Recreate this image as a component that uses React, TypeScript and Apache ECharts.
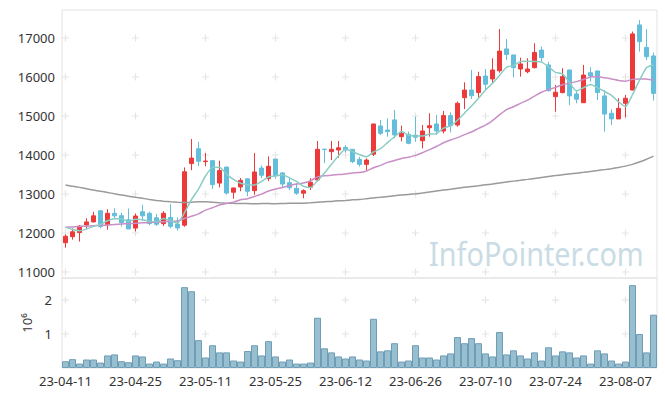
import React, { useEffect, useRef } from "react";
import * as echarts from "echarts";

const dates = [
  "23-04-11","23-04-12","23-04-13","23-04-14","23-04-17","23-04-18","23-04-19","23-04-20","23-04-21","23-04-24",
  "23-04-25","23-04-26","23-04-27","23-04-28","23-05-02","23-05-03","23-05-04","23-05-08","23-05-09","23-05-10",
  "23-05-11","23-05-12","23-05-15","23-05-16","23-05-17","23-05-18","23-05-19","23-05-22","23-05-23","23-05-24",
  "23-05-25","23-05-26","23-05-30","23-05-31","23-06-01","23-06-02","23-06-05","23-06-07","23-06-08","23-06-09",
  "23-06-12","23-06-13","23-06-14","23-06-15","23-06-16","23-06-19","23-06-20","23-06-21","23-06-22","23-06-23",
  "23-06-26","23-06-27","23-06-28","23-06-29","23-06-30","23-07-03","23-07-04","23-07-05","23-07-06","23-07-07",
  "23-07-10","23-07-11","23-07-12","23-07-13","23-07-14","23-07-17","23-07-18","23-07-19","23-07-20","23-07-21",
  "23-07-24","23-07-25","23-07-26","23-07-27","23-07-28","23-07-31","23-08-01","23-08-02","23-08-03","23-08-04",
  "23-08-07","23-08-08","23-08-09","23-08-10","23-08-11",
];

// [open, close, low, high]
const ohlc = [
  [11750,11915,11625,11965],[11905,12030,11830,12120],[12010,12175,11780,12205],[12205,12285,12110,12380],[12285,12440,12270,12545],
  [12570,12165,12120,12575],[12210,12505,12085,12610],[12505,12440,12350,12635],[12445,12265,12165,12520],[12340,12105,12100,12630],
  [12125,12435,12040,12500],[12545,12440,12315,12725],[12505,12245,12200,12545],[12390,12225,12180,12485],[12240,12505,12180,12560],
  [12400,12170,12120,12740],[12230,12130,12060,12400],[12200,13570,12160,13680],[13780,13920,13610,14410],[14160,13840,13710,14335],
  [13830,13845,13710,14050],[13855,13240,13130,13860],[13280,13600,13170,13855],[13690,13025,12980,13700],[13045,13155,12880,13160],
  [13180,13350,13070,13410],[13390,13070,12940,13395],[13085,13565,12980,14050],[13665,13480,13410,13735],[13395,13710,13330,13965],
  [13895,13470,13390,13900],[13540,13255,13170,13560],[13290,13160,13100,13440],[13145,13020,12975,13280],[13020,13085,12890,13120],
  [13175,13300,13100,13405],[13360,14145,13315,14360],[14150,14140,13790,14150],[14085,14145,13870,14360],[14130,14185,13930,14360],
  [14195,14130,14060,14255],[14145,13830,13790,14150],[13890,13760,13700,13955],[13760,13870,13600,13915],[14020,14795,13975,14800],
  [14745,14555,14510,14900],[14640,14600,14470,14940],[14900,14515,14430,15155],[14470,14560,14350,14750],[14530,14300,14275,14600],
  [14510,14455,14340,14985],[14365,14615,14170,14770],[14700,14750,14470,15070],[14795,14615,14515,15025],[14615,15010,14555,15130],
  [15010,14750,14580,15095],[14770,15325,14725,15370],[15470,15665,15180,15865],[15665,15520,15435,16180],[15600,16010,15470,16135],
  [16025,15815,15665,16205],[15950,16180,15820,16480],[16160,16665,16110,17230],[16720,16580,16435,16975],[16565,16240,15990,16570],
  [16205,16335,16010,16495],[16135,16205,16095,16480],[16240,16630,16220,16865],[16690,16495,16375,16780],[16310,15650,15625,16390],
  [15495,15610,15110,15795],[15600,16010,15580,16225],[16180,15515,15280,16185],[15565,15430,15325,15665],[15340,16050,15335,16310],
  [16110,16025,15880,16250],[16155,15600,15410,16160],[15515,15050,14600,15660],[15070,14925,14770,15170],[14925,15195,14920,15455],
  [15325,15455,14965,15540],[15665,17105,15660,17165],[17335,16905,16650,17460],[16760,16520,16435,17225],[16540,15580,15395,16625],
];

const ma5 = [
  12150,12090,12060,12100,12169,12219,12314,12367,12363,12296,
  12350,12337,12298,12290,12370,12317,12255,12520,12859,13126,
  13461,13683,13689,13510,13373,13274,13240,13233,13324,13435,
  13459,13496,13415,13323,13198,13164,13342,13538,13763,13983,
  14149,14086,14010,13955,14077,14162,14316,14467,14605,14506,
  14486,14489,14536,14547,14689,14748,14890,15073,15254,15454,
  15667,15838,16038,16250,16296,16400,16405,16398,16381,16263,
  16118,16079,15856,15643,15723,15806,15724,15631,15530,15359,
  15245,15546,15917,16236,16313,
];

const ma20 = [
  12150,12155,12165,12175,12185,12195,12205,12220,12230,12240,
  12250,12260,12270,12280,12290,12300,12310,12370,12430,12490,
  12587,12647,12719,12756,12791,12851,12879,12935,12996,13076,
  13128,13169,13214,13254,13283,13340,13440,13469,13480,13497,
  13512,13541,13549,13591,13673,13734,13810,13858,13912,13941,
  13990,14058,14138,14218,14314,14386,14445,14522,14590,14682,
  14766,14883,15029,15164,15236,15325,15406,15511,15608,15676,
  15733,15803,15841,15882,15934,15998,16012,15981,15951,15910,
  15892,15939,15951,15948,15915,
];

const ma60 = [
  13230,13200,13170,13135,13100,13070,13040,13005,12975,12945,
  12915,12890,12860,12835,12815,12800,12790,12785,12790,12800,
  12800,12790,12775,12765,12760,12755,12755,12750,12755,12755,
  12750,12755,12760,12760,12765,12775,12790,12800,12810,12825,
  12835,12850,12860,12880,12900,12915,12935,12955,12975,12990,
  13005,13025,13050,13075,13100,13120,13145,13170,13190,13210,
  13235,13258,13282,13306,13330,13352,13375,13400,13425,13450,
  13472,13495,13515,13535,13555,13578,13600,13625,13650,13680,
  13715,13760,13820,13890,13970,
];

// volume in units of 10^6
const volume = [
  0.20,0.26,0.13,0.25,0.25,0.16,0.37,0.40,0.20,0.17,
  0.37,0.34,0.13,0.19,0.13,0.28,0.23,2.38,2.26,0.82,
  0.31,0.67,0.46,0.46,0.22,0.19,0.50,0.67,0.37,0.79,
  0.34,0.19,0.25,0.13,0.13,0.16,1.48,0.58,0.46,0.34,
  0.28,0.34,0.25,0.22,1.45,0.49,0.52,0.73,0.19,0.22,
  0.67,0.31,0.31,0.25,0.37,0.43,0.91,0.73,0.88,0.73,
  0.43,0.34,1.06,0.40,0.52,0.37,0.28,0.46,0.22,0.61,
  0.37,0.49,0.46,0.31,0.37,0.13,0.52,0.43,0.22,0.13,
  0.19,2.44,1.00,0.46,1.57,
];

const priceTicks = [11000, 12000, 13000, 14000, 15000, 16000, 17000];
const volumeTicks = [1, 2];
const labelEvery = 10;

const FONT = '"Noto Sans", sans-serif';
const CROSS = "path://M0,2.5H6V3.5H0Z M2.5,0H3.5V6H2.5Z";

export default function App() {
  const ref = useRef<HTMLDivElement>(null);
  useEffect(() => {
    if (!ref.current) return;
    const chart = echarts.init(ref.current, undefined, { renderer: "svg" });
    const labelIdx = dates.map((_, i) => i).filter((i) => i % labelEvery === 0);
    const crossMain: number[][] = [];
    labelIdx.forEach((i) => priceTicks.forEach((v) => crossMain.push([i, v])));
    const crossVol: number[][] = [];
    labelIdx.forEach((i) => volumeTicks.forEach((v) => crossVol.push([i, v])));

    chart.setOption({
      animation: false,
      backgroundColor: "#ffffff",
      textStyle: { fontFamily: FONT },
      grid: [
        { left: 62, right: 8, top: 10, height: 268, show: true, borderColor: "#e3e3e3", borderWidth: 1 },
        { left: 62, right: 8, top: 278, height: 90, show: true, borderColor: "#e3e3e3", borderWidth: 1 },
      ],
      xAxis: [
        {
          type: "category", gridIndex: 0, data: dates, boundaryGap: true,
          axisLine: { show: false }, axisTick: { show: false }, axisLabel: { show: false }, splitLine: { show: false },
        },
        {
          type: "category", gridIndex: 1, data: dates, boundaryGap: true,
          axisLine: { show: false }, axisTick: { show: false }, splitLine: { show: false },
          axisLabel: { interval: labelEvery - 1, color: "#333", fontSize: 13, fontFamily: FONT, margin: 6 },
        },
      ],
      yAxis: [
        {
          type: "value", gridIndex: 0, min: 10846, max: 17718, splitNumber: 6,
          axisLine: { show: false }, axisTick: { show: false }, splitLine: { show: false },
          axisLabel: {
            color: "#333", fontSize: 13, fontFamily: FONT, margin: 7,
            formatter: (v: number) => (v % 1000 === 0 ? String(v) : ""),
          },
        },
        {
          type: "value", gridIndex: 1, min: 0, max: 2.65, interval: 1,
          axisLine: { show: false }, axisTick: { show: false }, splitLine: { show: false },
          axisLabel: {
            color: "#333", fontSize: 13, fontFamily: FONT, margin: 10,
            formatter: (v: number) => (v > 0 && Math.abs(v - Math.round(v)) < 1e-9 ? String(Math.round(v)) : ""),
          },
          name: "10⁶", nameLocation: "middle", nameRotate: 90, nameGap: 25,
          nameTextStyle: { color: "#333", fontSize: 13, fontFamily: FONT },
        },
      ],
      series: [
        {
          type: "scatter", xAxisIndex: 0, yAxisIndex: 0, data: crossMain, symbol: CROSS, symbolSize: 7,
          itemStyle: { color: "#dfdfdf" }, silent: true, z: 1,
        },
        {
          type: "scatter", xAxisIndex: 1, yAxisIndex: 1, data: crossVol, symbol: CROSS, symbolSize: 7,
          itemStyle: { color: "#dfdfdf" }, silent: true, z: 1,
        },
        {
          type: "candlestick", xAxisIndex: 0, yAxisIndex: 0, data: ohlc, barWidth: "64%",
          itemStyle: { color: "#ec3a3a", color0: "#62bedb", borderColor: "#ec3a3a", borderColor0: "#62bedb", borderWidth: 1 },
          z: 3,
        },
        {
          type: "line", xAxisIndex: 0, yAxisIndex: 0, data: ma60, showSymbol: false, smooth: 0.2,
          lineStyle: { color: "#9a9a9a", width: 1.5 }, z: 4,
        },
        {
          type: "line", xAxisIndex: 0, yAxisIndex: 0, data: ma20, showSymbol: false, smooth: 0.2,
          lineStyle: { color: "#c98fc6", width: 1.5 }, z: 4,
        },
        {
          type: "line", xAxisIndex: 0, yAxisIndex: 0, data: ma5, showSymbol: false, smooth: 0.2,
          lineStyle: { color: "#8acdc4", width: 1.5 }, z: 4,
        },
        {
          type: "bar", xAxisIndex: 1, yAxisIndex: 1, data: volume, barWidth: "100%",
          itemStyle: { color: "#98bfd0", borderColor: "#6f9db6", borderWidth: 1 },
          z: 3,
        },
      ],
      graphic: [
        {
          type: "text", x: 429, y: 237, scaleX: 0.9, z: 0, silent: true,
          style: { text: "InfoPointer.com", font: `32px ${FONT}`, fill: "#c9dce5" },
        },
      ],
    });
    return () => chart.dispose();
  }, []);
  return <div ref={ref} style={{ position: "fixed", left: 0, top: 0, width: 665, height: 396 }} />;
}
